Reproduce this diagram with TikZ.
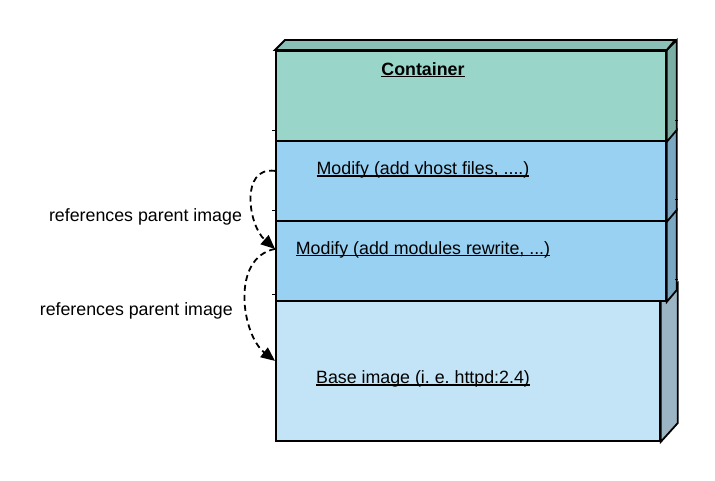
\documentclass[tikz,border=0pt]{standalone}
\usepackage{fontspec}
\setmainfont{Liberation Sans}
\usetikzlibrary{arrows.meta}
\frenchspacing
\definecolor{cfront}{HTML}{9AD5CA}
\definecolor{ctop}{HTML}{8BC0B6}
\definecolor{cside}{HTML}{7BAFA5}
\definecolor{mfront}{HTML}{99D1F3}
\definecolor{mside}{HTML}{7AA7C2}
\definecolor{bfront}{HTML}{C2E4F6}
\definecolor{bside}{HTML}{9BB5C5}
\newcommand\myul[1]{\setbox0\hbox{#1}\rlap{\rule[-2.4pt]{\wd0}{1.3pt}}\box0}
\tikzset{
  face/.style={draw=black, line width=1.8pt, rectangle, inner sep=0pt, anchor=north west, minimum width=390pt},
  sideface/.style={draw=black, line width=1.8pt, line join=miter},
  lbl/.style={font=\fontsize{17.8}{21}\selectfont, inner sep=0pt, anchor=base},
  conn/.style={line width=1.8pt, dash pattern=on 6pt off 4pt, -{Triangle[length=14pt,width=12pt]}},
  tick/.style={line width=1pt}
}
\begin{document}
\begin{tikzpicture}[x=1pt,y=-1pt]
\useasboundingbox (0,0) rectangle (715,480);
% base image
\node[face, fill=bfront, minimum width=384pt, minimum height=140pt] (B) at (275,300) {};
\filldraw[sideface, fill=bside] (B.north east) -- ++(17,-17) -- ++(0,140) -- (B.south east) -- cycle;
% modules layer
\node[face, fill=mfront, minimum height=80pt] (L3) at (275,220) {};
\filldraw[sideface, fill=mside] (L3.north east) -- ++(10,-10) -- ++(0,80) -- (L3.south east) -- cycle;
% vhost layer
\node[face, fill=mfront, minimum height=80pt] (L2) at (275,140) {};
\filldraw[sideface, fill=mside] (L2.north east) -- ++(10,-10) -- ++(0,80) -- (L2.south east) -- cycle;
% container
\node[face, fill=cfront, minimum height=90pt] (C) at (275,50) {};
\filldraw[sideface, fill=cside] (C.north east) -- ++(10,-10) -- ++(0,90) -- (C.south east) -- cycle;
\filldraw[sideface, fill=ctop] (C.north west) -- ++(10,-10) -- ++(390,0) -- (C.north east) -- cycle;
% small ticks
\foreach \yy in {130,210,294} \draw[tick] (272,\yy) -- (275,\yy);
\foreach \yy in {120,199,279} \draw[tick] (675,\yy) -- (678,\yy);
% texts
\node[lbl, font=\fontsize{17.8}{21}\selectfont\bfseries] (tC) at (423,75) {\myul{Container}};
\node[lbl] (t2) at (423,174.3) {\myul{Modify (add vhost files, ....)}};
\node[lbl] (t3) at (423,254) {\myul{Modify (add modules rewrite, ...)}};
\node[lbl] (tB) at (423,383.3) {\myul{Base image (i. e. httpd:2.4)}};
\node[lbl] (r1) at (145.5,221.7) {references parent image};
\node[lbl] (r2) at (136.3,315.7) {references parent image};
% connectors
\draw[conn] ([yshift=10pt]L2.west) .. controls (240,166) and (248,225) .. ([yshift=12pt]L3.west);
\draw[conn] ([yshift=12pt]L3.west) .. controls (230,258) and (242,335) .. ([yshift=10pt]B.west);
\end{tikzpicture}
\end{document}
